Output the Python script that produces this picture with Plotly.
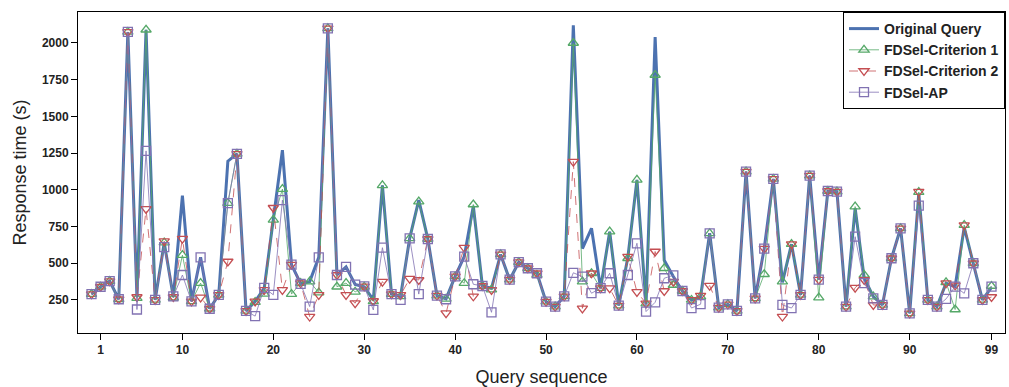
import plotly.graph_objects as go

queries = list(range(100))

original = [290, 340, 378, 255, 2075, 270, 2090, 250, 640, 270,
            960, 240, 540, 190, 285, 1195, 1245, 175, 240, 330,
            800, 1270, 490, 362, 375, 540, 2100, 420, 475, 355,
            340, 250, 1030, 290, 275, 670, 930, 665, 280, 258,
            410, 545, 890, 345, 330, 560, 388, 507, 466, 432,
            238, 205, 275, 2120, 600, 738, 330, 715, 212, 540,
            1068, 218, 2040, 520, 410, 311, 250, 273, 704, 198,
            220, 175, 1124, 261, 600, 1074, 370, 630, 284, 1097,
            388, 992, 988, 205, 875, 398, 273, 216, 534, 738,
            159, 975, 250, 205, 364, 341, 745, 500, 250, 335]

criterion1 = [290, 340, 378, 255, 2075, 262, 2090, 250, 640, 265,
              555, 240, 365, 190, 285, 910, 1245, 175, 235, 292,
              795, 1005, 290, 365, 375, 300, 2100, 340, 365, 305,
              340, 240, 1030, 290, 275, 670, 920, 665, 280, 258,
              410, 364, 900, 345, 320, 560, 388, 507, 466, 420,
              238, 205, 275, 2000, 375, 432, 330, 715, 212, 534,
              1068, 225, 1782, 466, 352, 311, 250, 273, 704, 198,
              220, 175, 1124, 261, 425, 1074, 375, 630, 284, 1097,
              266, 992, 988, 205, 886, 420, 273, 216, 534, 738,
              159, 985, 250, 205, 370, 185, 760, 500, 250, 345]

criterion2 = [290, 340, 378, 255, 2075, 270, 870, 250, 650, 270,
              668, 240, 268, 190, 285, 512, 1245, 175, 240, 318,
              878, 318, 490, 365, 137, 285, 2100, 420, 284, 228,
              342, 243, 375, 290, 284, 395, 386, 665, 280, 160,
              410, 607, 275, 345, 318, 560, 388, 507, 466, 432,
              238, 205, 275, 1192, 193, 432, 330, 330, 212, 545,
              305, 227, 580, 311, 375, 311, 250, 280, 348, 198,
              220, 175, 1124, 261, 600, 1074, 137, 630, 284, 1097,
              388, 992, 988, 205, 334, 386, 216, 216, 534, 738,
              159, 988, 250, 205, 364, 350, 760, 500, 250, 270]

fdsel_ap = [290, 340, 378, 255, 2075, 185, 1265, 250, 610, 275,
            420, 240, 540, 190, 285, 910, 1245, 175, 140, 332,
            285, 930, 490, 360, 205, 540, 2100, 420, 475, 355,
            342, 182, 606, 290, 250, 670, 290, 665, 280, 255,
            410, 545, 357, 345, 166, 560, 388, 507, 466, 432,
            238, 205, 275, 435, 409, 296, 330, 432, 212, 420,
            636, 171, 234, 398, 418, 311, 195, 221, 704, 198,
            220, 175, 1124, 261, 600, 1074, 216, 195, 284, 1097,
            388, 992, 988, 205, 681, 364, 261, 216, 534, 738,
            159, 893, 250, 205, 257, 341, 295, 500, 250, 341]

x_ticks = [1, 10, 20, 30, 40, 50, 60, 70, 80, 90, 99]
y_ticks = [250, 500, 750, 1000, 1250, 1500, 1750, 2000]

BLUE = "#4c72b0"
GREEN = "#55a868"
RED = "#c44e52"
PURPLE = "#8172b2"

fig = go.Figure()
fig.add_trace(go.Scatter(x=queries, y=original, mode="lines", name="Original Query",
                         line=dict(color=BLUE, width=3)))
fig.add_trace(go.Scatter(x=queries, y=criterion1, mode="lines+markers", name="FDSel-Criterion 1",
                         line=dict(color=GREEN, width=0.8),
                         marker=dict(symbol="triangle-up-open", size=9, color=GREEN,
                                     line=dict(width=1.3, color=GREEN))))
fig.add_trace(go.Scatter(x=queries, y=criterion2, mode="lines+markers", name="FDSel-Criterion 2",
                         line=dict(color=RED, width=0.8, dash="dash"),
                         marker=dict(symbol="triangle-down-open", size=9, color=RED,
                                     line=dict(width=1.3, color=RED))))
fig.add_trace(go.Scatter(x=queries, y=fdsel_ap, mode="lines+markers", name="FDSel-AP",
                         line=dict(color=PURPLE, width=0.8),
                         marker=dict(symbol="square-open", size=9, color=PURPLE,
                                     line=dict(width=1.3, color=PURPLE))))

axis_common = dict(showline=True, mirror=True, linecolor="black", linewidth=1,
                   ticks="outside", ticklen=6, tickcolor="black", showgrid=False,
                   zeroline=False,
                   tickfont=dict(family="Liberation Sans", size=12, color="#222", weight="bold"))

fig.update_layout(
    width=1009, height=387,
    margin=dict(l=78, r=4, t=12, b=54),
    paper_bgcolor="white", plot_bgcolor="white",
    xaxis=dict(range=[-1.485, 100.485], tickvals=x_ticks,
               title=dict(text="Query sequence", font=dict(family="Liberation Sans", size=18, color="#222"),
                          standoff=14),
               **axis_common),
    yaxis=dict(range=[25, 2211], tickvals=y_ticks,
               title=dict(text="Response time (s)", font=dict(family="Liberation Sans", size=18, color="#222"),
                          standoff=10),
               **axis_common),
    legend=dict(x=1, y=1, xanchor="right", yanchor="top", bgcolor="white",
                bordercolor="black", borderwidth=1,
                font=dict(family="Liberation Sans", size=14, color="#222", weight="bold"),
                tracegroupgap=0, itemwidth=30),
    showlegend=True,
)

fig.write_html("out.html")
